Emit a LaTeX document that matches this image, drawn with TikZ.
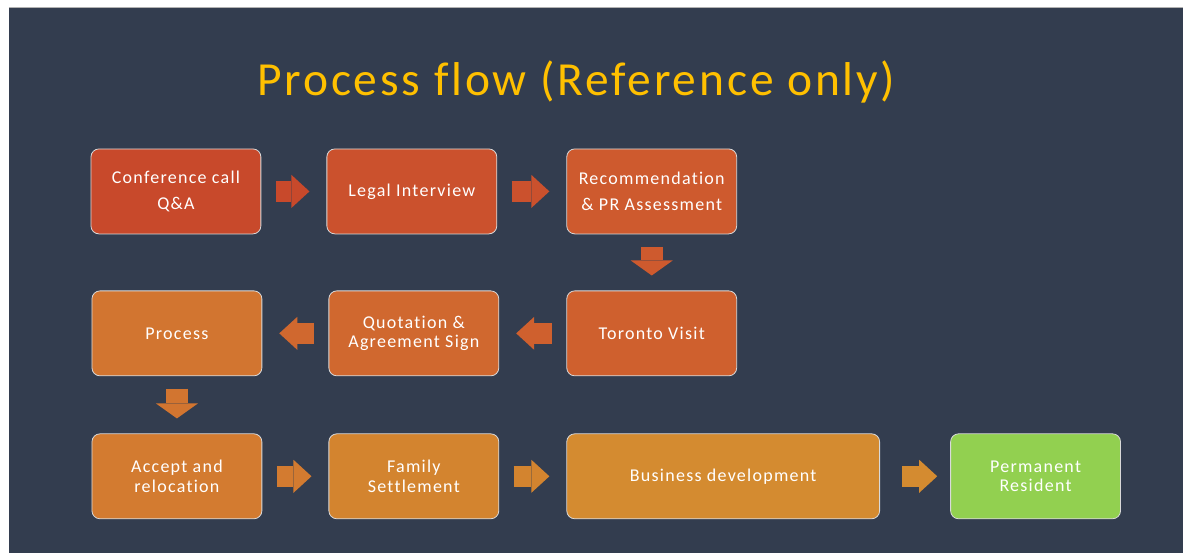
\documentclass[tikz,border=0pt]{standalone}
\usepackage{fontspec}
\setmainfont{Carlito}
\newfontfamily\boxfont[LetterSpace=7, Ligatures=NoCommon]{Carlito}
\newfontfamily\titlefont[LetterSpace=6, Ligatures=NoCommon]{Carlito}
\usepackage{xcolor}
\usetikzlibrary{arrows.meta, positioning}

\definecolor{slidebg}{HTML}{333D4F}
\definecolor{titlegold}{HTML}{FFC000}
\definecolor{edgegray}{HTML}{D9D9D9}
\definecolor{cConf}{HTML}{C8492B}
\definecolor{cLegal}{HTML}{CB512D}
\definecolor{cRec}{HTML}{CE5A2E}
\definecolor{cToronto}{HTML}{CF602E}
\definecolor{cQuot}{HTML}{D0682F}
\definecolor{cProc}{HTML}{D27530}
\definecolor{cAccept}{HTML}{D37B30}
\definecolor{cFamily}{HTML}{D3842F}
\definecolor{cBiz}{HTML}{D48B30}
\definecolor{cPerm}{HTML}{92D050}

\begin{document}
\begin{tikzpicture}[
    x=1pt, y=-1pt,
    box/.style={draw=edgegray, line width=0.8pt, rectangle, rounded corners=8pt, align=center, minimum height=85pt, minimum width=170pt, inner sep=0pt, text=white, font=\boxfont\fontsize{18}{19.5}\selectfont},
    harrow/.style={draw=#1, line width=21pt, -{Triangle[length=18pt, width=33pt, line width=0pt]}, shorten <=14.5pt, shorten >=17pt},
    varrow/.style={draw=#1, line width=22pt, -{Triangle[length=15pt, width=42pt, line width=0pt]}, shorten <=12.5pt, shorten >=15pt}
]
% Slide background
\fill[white] (0,0) rectangle (1183,553);
\fill[slidebg] (9,8) rectangle (1183,553);
\draw[gray!60, line width=1pt] (9,8) -- (1183,8);
\node[anchor=base, text=titlegold, font=\titlefont\fontsize{47.5}{52}\selectfont] (title) at (576.5,96) {Process flow (Reference only)};

% Row 1
\node[box, fill=cConf] (conf) at (176,191.5) {Conference call\\[7pt]Q\&A};
\node[box, right=65.2pt of conf, fill=cLegal] (legal) {Legal Interview};
\node[box, right=69.2pt of legal, fill=cRec] (rec) {Recommendation\\[7pt]\& PR Assessment};
\draw[harrow=cConf] (conf) -- (legal);
\draw[harrow=cLegal] (legal) -- (rec);

% Row 2
\node[box, below=56.2pt of rec, fill=cToronto] (toronto) {Toronto Visit};
\node[box, left=67.2pt of toronto, fill=cQuot] (quot) {Quotation \&\\Agreement Sign};
\node[box, left=66.2pt of quot, fill=cProc] (proc) {Process};
\draw[varrow=cRec] (rec) -- (toronto);
\draw[harrow=cToronto] (toronto) -- (quot);
\draw[harrow=cQuot] (quot) -- (proc);

% Row 3
\node[box, below=57.2pt of proc, fill=cAccept] (accept) {Accept and\\relocation};
\node[box, right=66.2pt of accept, fill=cFamily] (family) {Family\\Settlement};
\node[box, right=67.2pt of family, fill=cBiz, minimum width=313pt] (biz) {Business development};
\node[box, right=70.2pt of biz, fill=cPerm] (perm) {Permanent\\Resident};
\draw[varrow=cProc] (proc) -- (accept);
\draw[harrow=cAccept] (accept) -- (family);
\draw[harrow=cFamily] (family) -- (biz);
\draw[harrow=cBiz, shorten <=22pt, shorten >=13pt] (biz) -- (perm);
\end{tikzpicture}
\end{document}
